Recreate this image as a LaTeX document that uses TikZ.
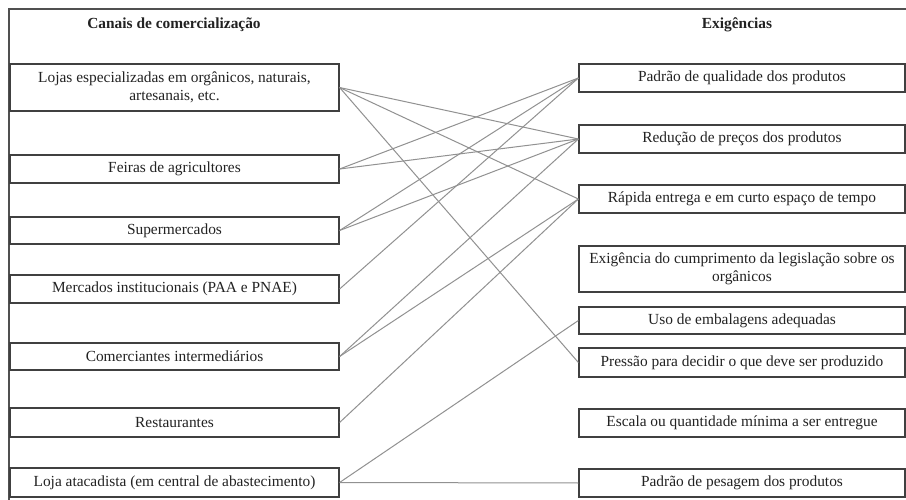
\documentclass[tikz,border=0pt]{standalone}
\usepackage{fontspec}
\setmainfont{Liberation Serif}
\definecolor{boxc}{HTML}{404040}
\definecolor{framec}{HTML}{505050}
\definecolor{linec}{HTML}{919191}
\definecolor{txt}{HTML}{222222}
\begin{document}
\begin{tikzpicture}[x=1pt,y=-1pt,
  box/.style={draw=boxc, line width=1.2pt, text=txt, align=center, inner sep=0pt,
    font=\fontsize{15.4}{18}\selectfont},
  lbox/.style={box, minimum width=329pt},
  rbox/.style={box, minimum width=326pt},
  link/.style={draw=linec, line width=1pt},
  head/.style={font=\fontsize{15.4}{18}\selectfont\bfseries, text=txt}]
\useasboundingbox (0,0) rectangle (906,500);
\clip (0,0) rectangle (906,500);
\fill[white] (0,0) rectangle (906,500);
\draw[framec, line width=1.5pt] (9,506) -- (9,9) -- (912,9);
\node[head] (h1) at (174,25) {Canais de comercialização};
\node[head] (h2) at (737,25) {Exigências};
% left boxes
\node[lbox, minimum height=47pt] (l1) at (174.5,87.5) {Lojas especializadas em orgânicos, naturais,\\artesanais, etc.};
\node[lbox, minimum height=28pt] (l2) at (174.5,169) {Feiras de agricultores};
\node[lbox, minimum height=27pt] (l3) at (174.5,230.5) {Supermercados};
\node[lbox, minimum height=28pt] (l4) at (174.5,289) {Mercados institucionais (PAA e PNAE)};
\node[lbox, minimum height=27pt] (l5) at (174.5,356.5) {Comerciantes intermediários};
\node[lbox, minimum height=29pt] (l6) at (174.5,422.5) {Restaurantes};
\node[lbox, minimum height=29pt] (l7) at (174.5,482.5) {Loja atacadista (em central de abastecimento)};
% right boxes
\node[rbox, minimum height=28pt] (r1) at (742,78) {Padrão de qualidade dos produtos};
\node[rbox, minimum height=28pt] (r2) at (742,139) {Redução de preços dos produtos};
\node[rbox, minimum height=28pt] (r3) at (742,199) {Rápida entrega e em curto espaço de tempo};
\node[rbox, minimum height=46pt] (r4) at (742,269) {Exigência do cumprimento da legislação sobre os\\orgânicos};
\node[rbox, minimum height=27pt] (r5) at (742,320.5) {Uso de embalagens adequadas};
\node[rbox, minimum height=29pt] (r6) at (742,362.5) {Pressão para decidir o que deve ser produzido};
\node[rbox, minimum height=28pt] (r7) at (742,423) {Escala ou quantidade mínima a ser entregue};
\node[rbox, minimum height=28pt] (r8) at (742,483) {Padrão de pesagem dos produtos};
% connectors
\draw[link] (l1.east) -- (r2.west);
\draw[link] (l1.east) -- (r3.west);
\draw[link] (l1.east) -- (r6.west);
\draw[link] (l2.east) -- (r1.west);
\draw[link] (l2.east) -- (r2.west);
\draw[link] (l3.east) -- (r1.west);
\draw[link] (l3.east) -- (r2.west);
\draw[link] (l4.east) -- (r1.west);
\draw[link] (l5.east) -- (r2.west);
\draw[link] (l5.east) -- (r3.west);
\draw[link] (l6.east) -- (r3.west);
\draw[link] (l7.east) -- (r5.west);
\draw[link] (l7.east) -- (r8.west);
\end{tikzpicture}
\end{document}
